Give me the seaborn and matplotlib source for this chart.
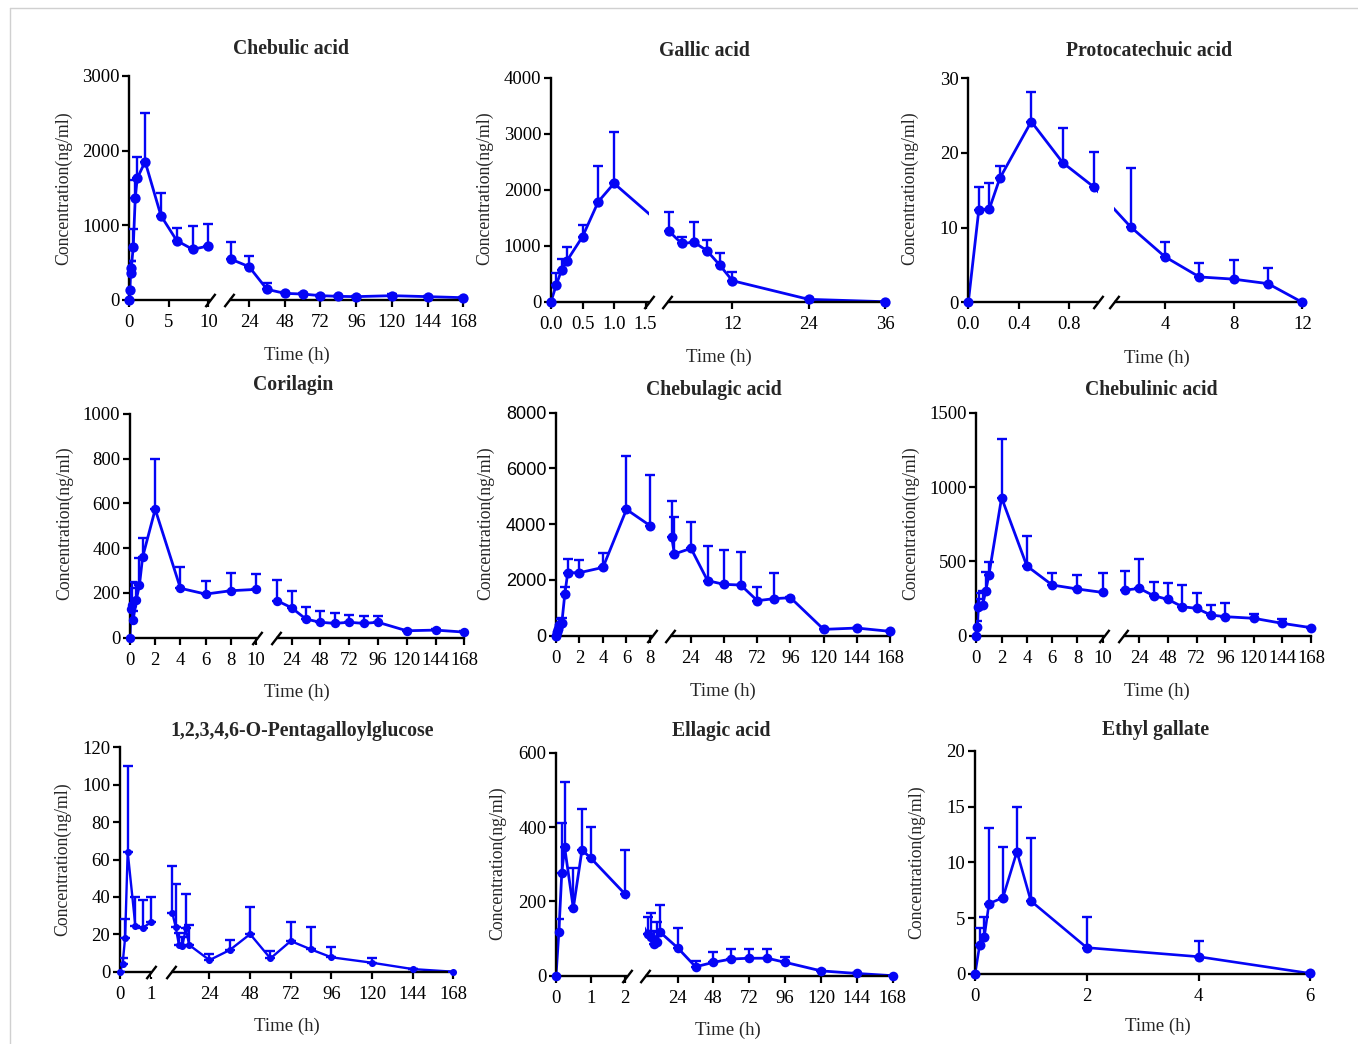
import numpy as np
import pandas as pd
import matplotlib
matplotlib.use("Agg")
import matplotlib.pyplot as plt
from matplotlib.lines import Line2D
import seaborn as sns

# ---------------- data (time in h, mean conc. ng/ml, upper SD) ----------------
t_long = [0, 0.083, 0.167, 0.25, 0.5, 0.75, 1, 2, 4, 6, 8, 10, 12, 24, 36, 48, 60, 72, 84, 96, 120, 144, 168]

chebulic_t = t_long
chebulic_c = [0, 134, 357, 424, 714, 1362, 1629, 1853, 1129, 795, 679, 723, 545, 446, 143, 89, 80, 58, 49, 45, 58, 45, 31]
chebulic_sd = [0, 20, 165, 98, 232, 245, 282, 656, 308, 174, 317, 290, 232, 143, 80, 20, 20, 15, 10, 10, 20, 10, 10]

gallic_t = [0, 0.083, 0.167, 0.25, 0.5, 0.75, 1, 2, 4, 6, 8, 10, 12, 24, 36]
gallic_c = [0, 298, 565, 726, 1161, 1786, 2113, 1262, 1042, 1060, 911, 655, 375, 42, 0]
gallic_sd = [0, 208, 203, 256, 208, 637, 917, 345, 119, 369, 190, 208, 161, 18, 0]

proto_t = [0, 0.083, 0.167, 0.25, 0.5, 0.75, 1, 2, 4, 6, 8, 10, 12]
proto_c = [0, 12.3, 12.5, 16.6, 24.2, 18.7, 15.4, 10.1, 6.1, 3.4, 3.1, 2.5, 0]
proto_sd = [0, 3.2, 3.5, 1.6, 4.0, 4.7, 4.7, 7.9, 2.0, 1.9, 2.5, 2.05, 0]

corilagin_t = t_long
corilagin_c = [0, 128, 145, 79, 170, 235, 360, 574, 221, 195, 210, 216, 165, 134, 83, 69, 64, 69, 64, 69, 31, 34, 25]
corilagin_sd = [0, 92, 105, 42, 75, 123, 84, 223, 93, 57, 81, 70, 93, 75, 53, 49, 48, 31, 33, 28, 4, 4, 3]

chebulagic_t = t_long
chebulagic_c = [0, 150, 250, 380, 470, 1495, 2260, 2260, 2450, 4530, 3950, 3553, 2931, 3134, 1974, 1842, 1818, 1256, 1328, 1364, 227, 275, 156]
chebulagic_sd = [0, 100, 150, 220, 152, 239, 491, 455, 517, 1929, 1804, 1291, 1327, 945, 1256, 1232, 1172, 478, 909, 36, 13, 15, 14]

chebulinic_t = t_long
chebulinic_c = [0, 61, 195, 200, 204, 303, 410, 928, 469, 341, 314, 291, 307, 318, 269, 244, 195, 184, 139, 128, 117, 83, 54]
chebulinic_sd = [0, 39, 49, 85, 96, 123, 88, 395, 204, 83, 92, 128, 128, 196, 90, 108, 146, 105, 67, 92, 29, 27, 6]

pgg_t = t_long
pgg_c = [0, 3.9, 18.2, 64.2, 24.6, 23.5, 26.4, 31.6, 24.1, 14.1, 13.7, 23.2, 14.3, 6.2, 11.6, 20.1, 7.1, 16.4, 11.9, 7.7, 4.8, 1.4, 0]
pgg_sd = [0, 3.2, 9.8, 45.8, 15.2, 14.8, 13.4, 25.1, 22.6, 6.8, 5.0, 18.2, 10.7, 3.1, 5.3, 14.3, 4.1, 10.3, 12.2, 5.7, 2.3, 0.2, 0]

ellagic_t = t_long
ellagic_c = [0, 118, 277, 345, 182, 338, 317, 219, 112, 105, 85, 90, 118, 75, 24, 36, 45, 47, 47, 36, 13, 6, 0]
ellagic_sd = [0, 34, 135, 177, 107, 111, 84, 118, 45, 65, 35, 55, 72, 52, 16, 27, 27, 25, 25, 15, 2, 2, 0]

ethyl_t = [0, 0.083, 0.167, 0.25, 0.5, 0.75, 1, 2, 4, 6]
ethyl_c = [0, 2.57, 3.34, 6.3, 6.84, 10.96, 6.54, 2.36, 1.55, 0.05]
ethyl_sd = [0, 1.52, 1.76, 6.74, 4.53, 3.97, 5.64, 2.74, 1.44, 0]

titles = ["Chebulic acid", "Gallic acid", "Protocatechuic acid",
          "Corilagin", "Chebulagic acid", "Chebulinic acid",
          "1,2,3,4,6-O-Pentagalloylglucose", "Ellagic acid", "Ethyl gallate"]

long_ticks = [24, 48, 72, 96, 120, 144, 168]
xticks = [[0, 5, 10] + long_ticks,
          [0, 0.5, 1.0, 1.5, 12, 24, 36],
          [0, 0.4, 0.8, 4, 8, 12],
          [0, 2, 4, 6, 8, 10] + long_ticks,
          [0, 2, 4, 6, 8] + long_ticks,
          [0, 2, 4, 6, 8, 10] + long_ticks,
          [0, 1] + long_ticks,
          [0, 1, 2] + long_ticks,
          [0, 2, 4, 6]]
xticklabels = [["0", "5", "10"] + [str(v) for v in long_ticks],
               ["0.0", "0.5", "1.0", "1.5", "12", "24", "36"],
               ["0.0", "0.4", "0.8", "4", "8", "12"],
               ["0", "2", "4", "6", "8", "10"] + [str(v) for v in long_ticks],
               ["0", "2", "4", "6", "8"] + [str(v) for v in long_ticks],
               ["0", "2", "4", "6", "8", "10"] + [str(v) for v in long_ticks],
               ["0", "1"] + [str(v) for v in long_ticks],
               ["0", "1", "2"] + [str(v) for v in long_ticks],
               ["0", "2", "4", "6"]]
yticks = [[0, 1000, 2000, 3000], [0, 1000, 2000, 3000, 4000], [0, 10, 20, 30],
          [0, 200, 400, 600, 800, 1000], [0, 2000, 4000, 6000, 8000], [0, 500, 1000, 1500],
          [0, 20, 40, 60, 80, 100, 120], [0, 200, 400, 600], [0, 5, 10, 15, 20]]

series = [(chebulic_t, chebulic_c, chebulic_sd), (gallic_t, gallic_c, gallic_sd),
          (proto_t, proto_c, proto_sd), (corilagin_t, corilagin_c, corilagin_sd),
          (chebulagic_t, chebulagic_c, chebulagic_sd), (chebulinic_t, chebulinic_c, chebulinic_sd),
          (pgg_t, pgg_c, pgg_sd), (ellagic_t, ellagic_c, ellagic_sd), (ethyl_t, ethyl_c, ethyl_sd)]

# ---------------- layout (pixels in a 1358x1044 canvas) ----------------
W, H = 1358, 1044
# axes box: x left, x right, y top, y bottom
boxes = [(129.3, 463.3, 76, 300), (551, 885, 77.7, 301.7), (968.3, 1302.3, 78.3, 302.3),
         (130, 464.3, 414, 637.7), (556, 890, 412.7, 635.7), (976.3, 1311, 412.7, 635.7),
         (120, 453.3, 747.3, 971.7), (556, 892.7, 752.7, 975.7), (975, 1310.3, 750.7, 974)]
# broken x axis: left segment end, right segment start, and their pixel offsets
breaks = [(10.2, 10.5, 80.7, 99.7), (1.55, 1.67, 97.7, 115.7), (1.03, 1.05, 129.7, 146),
          (10.1, 11, 127.3, 146), (8.2, 8.6, 96.3, 113.7), (10.1, 10.5, 127.7, 147),
          (1.02, 1.1, 31.3, 50.7), (2.05, 2.2, 71, 89.1), None]
title_pos = [(291, 49), (704, 51), (1149, 51), (293, 385), (714, 390), (1151, 390),
             (302, 731), (721, 731), (1156, 730)]
xlabel_pos = [(297, 355), (719, 357), (1157, 358), (297, 692), (723, 691), (1157, 691),
              (287, 1026), (728, 1030), (1158, 1026)]
ylabel_pos = [(64, 188), (485, 188), (910, 188), (65, 523), (486, 523), (911, 523),
              (63, 859), (498, 863), (917, 862)]
marker_s = [55, 55, 52, 46, 52, 50, 26, 48, 52]
line_w = [2.0, 2.0, 2.0, 2.0, 2.0, 2.0, 1.7, 2.0, 1.9]

BLUE = "#0505f5"

sns.set_style("ticks")
plt.rcParams["font.family"] = ["Liberation Serif", "DejaVu Serif"]
plt.rcParams.update({
    "axes.linewidth": 1.7, "axes.edgecolor": "black",
    "xtick.major.width": 1.6, "ytick.major.width": 1.6,
    "xtick.major.size": 5, "ytick.major.size": 5,
    "xtick.labelsize": 13.5, "ytick.labelsize": 13.5,
    "xtick.color": "black", "ytick.color": "black",
    "xtick.major.pad": 5, "ytick.major.pad": 2,
})


def broken_scale(a_end, b_start, xmax, pa, pb, pw):
    s1 = pa / a_end
    s2 = (pw - pb) / (xmax - b_start)
    kx = [-1e4, 0, a_end, b_start, xmax, xmax + 1e4]
    kp = [-1e4 * s1, 0, pa, pb, pw, pw + 1e4 * s2]

    def fwd(x):
        return np.interp(x, kx, kp)

    def inv(p):
        return np.interp(p, kp, kx)
    return fwd, inv


fig = plt.figure(figsize=(W / 100, H / 100), dpi=100)

for i in range(9):
    t, c, sd = series[i]
    x0, x1, yt, yb = boxes[i]
    ax = fig.add_axes([x0 / W, 1 - yb / H, (x1 - x0) / W, (yb - yt) / H])
    df = pd.DataFrame({"t": t, "c": c})
    sns.lineplot(data=df, x="t", y="c", ax=ax, color=BLUE, lw=line_w[i], zorder=2, errorbar=None)
    ax.errorbar(t, c, yerr=[np.zeros(len(sd)), sd], fmt="none", ecolor=BLUE,
                elinewidth=1.7, capsize=3.8, capthick=1.7, zorder=3)
    sns.scatterplot(data=df, x="t", y="c", ax=ax, color=BLUE, s=marker_s[i],
                    linewidth=0, zorder=4, clip_on=False)
    xmax = t[-1]
    if breaks[i] is not None:
        a_end, b_start, pa, pb = breaks[i]
        pw = x1 - x0
        ax.set_xscale("function", functions=broken_scale(a_end, b_start, xmax, pa, pb, pw))
        # blank the gap (hides line and axis), then draw the // marks
        ax.axvspan(a_end, b_start, ymin=-0.025, ymax=1.0, color="white", lw=0,
                   zorder=2.7, clip_on=False)
        ax.plot([a_end, b_start], [0, 0], marker=[(-1, -1.3), (1, 1.3)], markersize=9.5,
                linestyle="none", color="black", mec="black", mew=1.7, clip_on=False, zorder=5)
    ax.set_xlim(0, xmax)
    ax.set_ylim(0, yticks[i][-1])
    ax.set_xticks(xticks[i], labels=xticklabels[i])
    ax.set_yticks(yticks[i], labels=[str(v) for v in yticks[i]])
    ax.minorticks_off()
    ax.set_xlabel("")
    ax.set_ylabel("")
    sns.despine(ax=ax)
    if i == 4:
        for lab in ax.get_yticklabels():
            lab.set_fontfamily("Liberation Sans")
            lab.set_fontsize(13)

    tx, ty = title_pos[i]
    fig.text(tx / W, 1 - ty / H, titles[i], ha="center", va="center",
             fontsize=14.2, fontweight="bold")
    lx, ly = xlabel_pos[i]
    fig.text(lx / W, 1 - ly / H, "Time (h)", ha="center", va="center", fontsize=13.5)
    yx, yy = ylabel_pos[i]
    fig.text(yx / W, 1 - yy / H, "Concentration(ng/ml)", ha="center", va="center",
             rotation=90, fontsize=12.8)

# thin grey frame of the original figure
fig.add_artist(Line2D([10 / W, 10 / W], [0, 1 - 8 / H], color="#d0d0d0", lw=1))
fig.add_artist(Line2D([10 / W, 1], [1 - 8 / H, 1 - 8 / H], color="#d0d0d0", lw=1))

fig.savefig("out.png", dpi=100, facecolor="white")
